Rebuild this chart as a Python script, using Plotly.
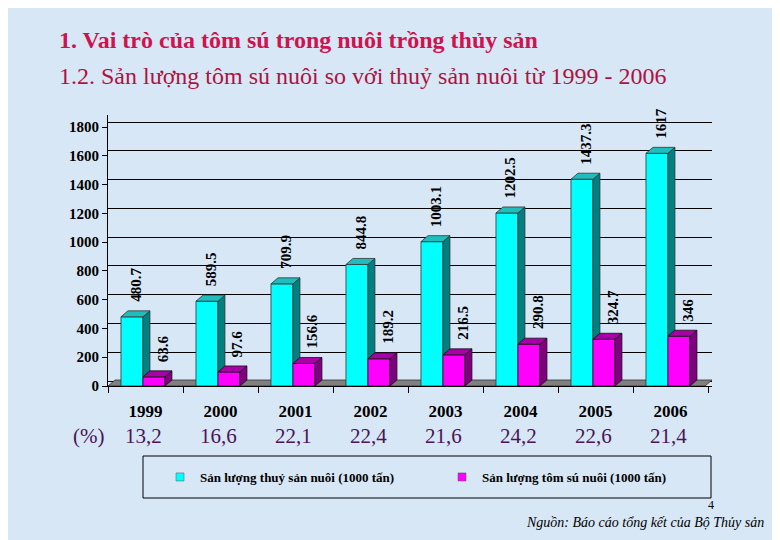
import plotly.graph_objects as go

# ---------------- data ----------------
years = ["1999", "2000", "2001", "2002", "2003", "2004", "2005", "2006"]
aquaculture = [480.7, 589.5, 709.9, 844.8, 1003.1, 1202.5, 1437.3, 1617]
shrimp = [63.6, 97.6, 156.6, 189.2, 216.5, 290.8, 324.7, 346]
aqua_labels = ["480.7", "589.5", "709.9", "844.8", "1003.1", "1202.5", "1437.3", "1617"]
shrimp_labels = ["63.6", "97.6", "156.6", "189.2", "216.5", "290.8", "324.7", "346"]
percent_labels = ["13,2", "16,6", "22,1", "22,4", "21,6", "24,2", "22,6", "21,4"]
y_ticks = [0, 200, 400, 600, 800, 1000, 1200, 1400, 1600, 1800]
series_names = ["Sản lượng thuỷ sản nuôi (1000 tấn)", "Sản lượng tôm sú nuôi (1000 tấn)"]

# ---------------- geometry / style ----------------
W, H = 780, 540
OFF = 8                            # page body margin
ML, MR, MT, MB = 108 - OFF, 780 - (712 - OFF), 115 - OFF, 540 - (386 - OFF)
plot_w = W - ML - MR
plot_h = H - MT - MB
cat_px = 75.0                     # px per category
y_px = 259.0 / 1800.0             # px per value unit
x_range = [-0.5, -0.5 + plot_w / cat_px]
y_range = [0, plot_h / y_px]

bar_w = 0.293
off_c = -0.327
off_m = off_c + bar_w
dx = 7 / cat_px
dy = 6 / y_px
grid_shift = 5 / y_px

FONT = "Liberation Serif"
CYAN, CYAN_SIDE, CYAN_TOP = "#00FFFF", "#008080", "#1FBDBD"
MAG, MAG_SIDE, MAG_TOP = "#FF00FF", "#800080", "#A800A8"

xs = list(range(len(years)))

fig = go.Figure()
fig.add_trace(go.Bar(x=xs, y=aquaculture, width=bar_w, offset=off_c, name=series_names[0],
                     legendgroup="a", showlegend=False,
                     marker=dict(color=CYAN, line=dict(color="#333333", width=0.8))))
fig.add_trace(go.Bar(x=xs, y=shrimp, width=bar_w, offset=off_m, name=series_names[1],
                     legendgroup="b", showlegend=False,
                     marker=dict(color=MAG, line=dict(color="#111111", width=0.8))))


def faces(offset, vals, base_vals=None):
    sx, sy, tx, ty = [], [], [], []
    for i, v in enumerate(vals):
        l = i + offset
        r = l + bar_w
        b = 0 if base_vals is None else min(base_vals[i], v)
        sx += [r, r + dx, r + dx, r, r, None]
        sy += [b, b + dy, v + dy, v, b, None]
        tx += [l, r, r + dx, l + dx, l, None]
        ty += [v, v, v + dy, v + dy, v, None]
    return sx, sy, tx, ty


sx, sy, tx, ty = faces(off_c, aquaculture, shrimp)
fig.add_trace(go.Scatter(x=sx, y=sy, fill="toself", fillcolor=CYAN_SIDE, mode="lines",
                         line=dict(color="#333333", width=0.8), showlegend=False, hoverinfo="skip"))
fig.add_trace(go.Scatter(x=tx, y=ty, fill="toself", fillcolor=CYAN_TOP, mode="lines",
                         line=dict(color="#333333", width=0.8), showlegend=False, hoverinfo="skip"))
sx, sy, tx, ty = faces(off_m, shrimp)
fig.add_trace(go.Scatter(x=sx, y=sy, fill="toself", fillcolor=MAG_SIDE, mode="lines",
                         line=dict(color="#111111", width=0.8), showlegend=False, hoverinfo="skip"))
fig.add_trace(go.Scatter(x=tx, y=ty, fill="toself", fillcolor=MAG_TOP, mode="lines",
                         line=dict(color="#111111", width=0.8), showlegend=False, hoverinfo="skip"))

# legend entries (small square keys, as in the original)
for name, col, grp in [(series_names[0], CYAN, "a"), (series_names[1], MAG, "b")]:
    fig.add_trace(go.Scatter(x=[None], y=[None], mode="markers", name=name, legendgroup=grp,
                             marker=dict(symbol="square", size=8, color=col,
                                         line=dict(color="#555555", width=0.5))))

annotations = []
for i, (v, t) in enumerate(zip(aquaculture, aqua_labels)):
    annotations.append(dict(x=i + off_c + bar_w / 2, y=v, text=t, textangle=-90, showarrow=False,
                            xanchor="center", yanchor="bottom", xshift=4, yshift=13,
                            font=dict(family=FONT, size=15, color="black", weight="bold")))
for i, (v, t) in enumerate(zip(shrimp, shrimp_labels)):
    annotations.append(dict(x=i + off_m + bar_w / 2, y=v, text=t, textangle=-90, showarrow=False,
                            xanchor="center", yanchor="bottom", xshift=9, yshift=13,
                            font=dict(family=FONT, size=15, color="black", weight="bold")))


def px_to_paper_x(px):
    return (px - OFF - ML) / plot_w


def px_to_paper_y(py):
    return (H - MB - (py - OFF)) / plot_h


PCT_COLOR = "#4A1456"
annotations.append(dict(xref="paper", yref="paper", x=px_to_paper_x(88), y=px_to_paper_y(436),
                        text="(%)", showarrow=False, xanchor="center", yanchor="middle",
                        font=dict(family=FONT, size=21, color=PCT_COLOR)))
for i, p in enumerate(percent_labels):
    annotations.append(dict(xref="x", yref="paper", x=i, y=px_to_paper_y(436), text=p,
                            showarrow=False, xanchor="center", yanchor="middle", xshift=-2,
                            font=dict(family=FONT, size=21, color=PCT_COLOR)))

annotations.append(dict(xref="paper", yref="paper", x=px_to_paper_x(57), y=px_to_paper_y(40),
                        text="<b>1. Vai trò của tôm sú trong nuôi trồng thủy sản</b>", showarrow=False,
                        xanchor="left", yanchor="middle",
                        font=dict(family=FONT, size=24, color="#D0124E")))
annotations.append(dict(xref="paper", yref="paper", x=px_to_paper_x(57), y=px_to_paper_y(76),
                        text="1.2. Sản lượng tôm sú nuôi so với thuỷ sản nuôi từ 1999 - 2006",
                        showarrow=False, xanchor="left", yanchor="middle",
                        font=dict(family=FONT, size=24, color="#B0123F")))
annotations.append(dict(xref="paper", yref="paper", x=px_to_paper_x(766), y=px_to_paper_y(522),
                        text="<i>Nguồn: Báo cáo tổng kết của Bộ Thủy sản</i>", showarrow=False,
                        xanchor="right", yanchor="middle",
                        font=dict(family=FONT, size=14, color="black")))
annotations.append(dict(xref="paper", yref="paper", x=px_to_paper_x(711), y=px_to_paper_y(505),
                        text="4", showarrow=False, xanchor="center", yanchor="middle",
                        font=dict(family=FONT, size=12, color="black")))

shapes = [
    # floor
    dict(type="path", xref="x", yref="y", layer="between",
         path=f"M {x_range[0]},0 L {x_range[1] - dx},0 L {x_range[1]},{dy} L {x_range[0] + dx},{dy} Z",
         fillcolor="#808080", line=dict(color="#333333", width=0.8)),
    # legend frame
    dict(type="rect", xref="paper", yref="paper",
         x0=px_to_paper_x(143), x1=px_to_paper_x(711), y0=px_to_paper_y(498), y1=px_to_paper_y(456),
         line=dict(color="black", width=1), fillcolor="rgba(0,0,0,0)"),
]

fig.update_layout(
    width=W, height=H,
    margin=dict(l=ML, r=MR, t=MT, b=MB, pad=0),
    paper_bgcolor="#D7E7F6", plot_bgcolor="rgba(0,0,0,0)",
    barmode="overlay", showlegend=True,
    legend=dict(orientation="h", x=px_to_paper_x(160), y=px_to_paper_y(477), xanchor="left",
                yanchor="middle", entrywidthmode="pixels", entrywidth=237,
                bgcolor="rgba(0,0,0,0)", borderwidth=0, itemsizing="trace",
                font=dict(family=FONT, size=13, color="black", weight="bold")),
    xaxis=dict(range=x_range, tickvals=xs, ticktext=years, ticks="", showgrid=False,
               zeroline=False, showline=True, linecolor="black", linewidth=1,
               ticklabelstandoff=10,
               tickfont=dict(family=FONT, size=17, color="black", weight="bold"),
               minor=dict(tickvals=[i - 0.5 for i in range(len(years) + 1)], ticks="outside",
                          ticklen=6, tickcolor="black", showgrid=False)),
    yaxis=dict(range=y_range, tickvals=y_ticks, ticks="outside", ticklen=5, tickcolor="black",
               showgrid=False, zeroline=False, showline=True, linecolor="black", linewidth=1,
               tickfont=dict(family=FONT, size=15, color="black", weight="bold"),
               minor=dict(tickvals=[v + grid_shift for v in y_ticks], ticks="", showgrid=True,
                          gridcolor="black", gridwidth=1)),
    annotations=annotations,
    shapes=shapes,
)

fig.write_html("out.html")
